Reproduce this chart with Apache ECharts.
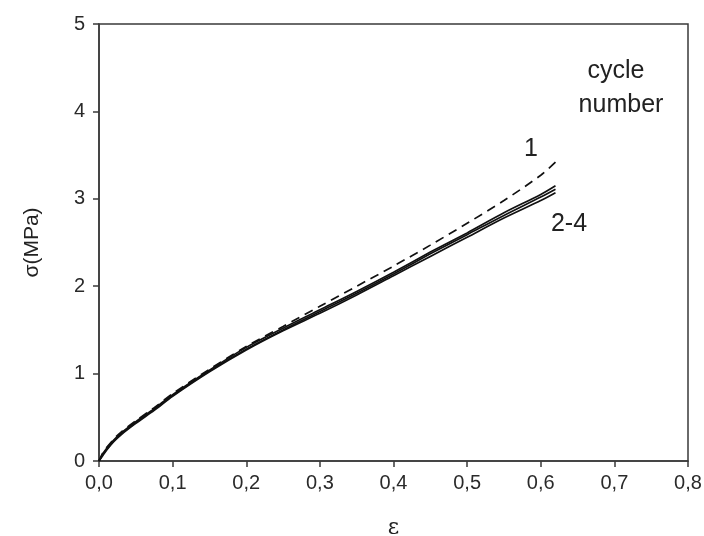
<!DOCTYPE html>
<html>
<head>
<meta charset="utf-8">
<title>stress-strain cycles</title>
<style>
  html, body { margin: 0; padding: 0; background: #fff; }
  #chart { width: 704px; height: 536px; }
</style>
</head>
<body>
<div id="chart"></div>
<script src="https://cdn.jsdelivr.net/npm/echarts@6/dist/echarts.min.js"></script>
<script>
// strain values (x)
var strain = [0, 0.005, 0.01, 0.02, 0.03, 0.05, 0.075, 0.1, 0.15, 0.2, 0.25, 0.3, 0.35, 0.4, 0.45, 0.5, 0.55, 0.6, 0.62];
// cycle 1 (dashed)
var cycle1 = [0, 0.09, 0.15, 0.25, 0.33, 0.46, 0.61, 0.77, 1.05, 1.31, 1.54, 1.77, 2.0, 2.23, 2.47, 2.72, 2.98, 3.27, 3.42];
// cycles 2-4 (solid)
var cycle2 = [0, 0.08, 0.14, 0.24, 0.32, 0.45, 0.60, 0.76, 1.04, 1.30, 1.52, 1.73, 1.94, 2.16, 2.39, 2.61, 2.84, 3.05, 3.15];
var cycle3 = [0, 0.07, 0.13, 0.23, 0.31, 0.44, 0.59, 0.75, 1.03, 1.28, 1.50, 1.71, 1.92, 2.14, 2.37, 2.59, 2.81, 3.02, 3.11];
var cycle4 = [0, 0.06, 0.12, 0.22, 0.30, 0.43, 0.58, 0.74, 1.02, 1.27, 1.49, 1.69, 1.90, 2.12, 2.34, 2.56, 2.78, 2.98, 3.07];

function pairs(ys) {
    var out = [];
    for (var i = 0; i < strain.length; i++) {
        out.push([strain[i], ys[i]]);
    }
    return out;
}

var myChart = echarts.init(document.getElementById('chart'));

var axisColor = '#3a3a3a';
var font = 'Liberation Sans, Arial, sans-serif';

function lineSeries(ys, dashed) {
    return {
        type: 'line',
        data: pairs(ys),
        smooth: 0.3,
        symbol: 'none',
        lineStyle: {
            color: '#111',
            width: 1.7,
            type: dashed ? [9, 6] : 'solid'
        }
    };
}

function note(text, x, y) {
    return {
        type: 'text',
        style: {
            text: text, x: x, y: y,
            textAlign: 'center', textVerticalAlign: 'bottom',
            font: '25px ' + font, fill: '#222'
        }
    };
}

var option = {
    animation: false,
    backgroundColor: '#fff',
    grid: {
        left: 99, right: 16, top: 24, bottom: 75,
        outerBoundsMode: 'none',
        containLabel: false,
        show: true,
        borderColor: axisColor,
        borderWidth: 1.5
    },
    xAxis: {
        type: 'value',
        min: 0, max: 0.8, interval: 0.1,
        name: 'ε',
        nameLocation: 'middle',
        nameGap: 56,
        nameTextStyle: { fontFamily: 'DejaVu Serif, serif', fontSize: 22, color: '#222' },
        axisLine: { lineStyle: { color: axisColor, width: 1.5 } },
        axisTick: { inside: false, length: 6, lineStyle: { color: axisColor, width: 1.5 } },
        splitLine: { show: false },
        axisLabel: {
            fontFamily: font, fontSize: 20, color: '#2a2a2a', margin: 12,
            formatter: function (v) { return v.toFixed(1).replace('.', ','); }
        }
    },
    yAxis: {
        type: 'value',
        min: 0, max: 5, interval: 1,
        name: 'σ(MPa)',
        nameLocation: 'middle',
        nameGap: 56,
        nameTextStyle: { fontFamily: font, fontSize: 21, color: '#222' },
        axisLine: { lineStyle: { color: axisColor, width: 1.5 } },
        axisTick: { inside: false, length: 6, lineStyle: { color: axisColor, width: 1.5 } },
        splitLine: { show: false },
        axisLabel: { fontFamily: font, fontSize: 20, color: '#2a2a2a', margin: 14 }
    },
    series: [
        lineSeries(cycle1, true),
        lineSeries(cycle2, false),
        lineSeries(cycle3, false),
        lineSeries(cycle4, false)
    ],
    graphic: [
        note('cycle', 616, 84),
        note('number', 621, 118),
        note('1', 531, 162),
        note('2-4', 569, 237)
    ]
};

myChart.setOption(option);
</script>
</body>
</html>
